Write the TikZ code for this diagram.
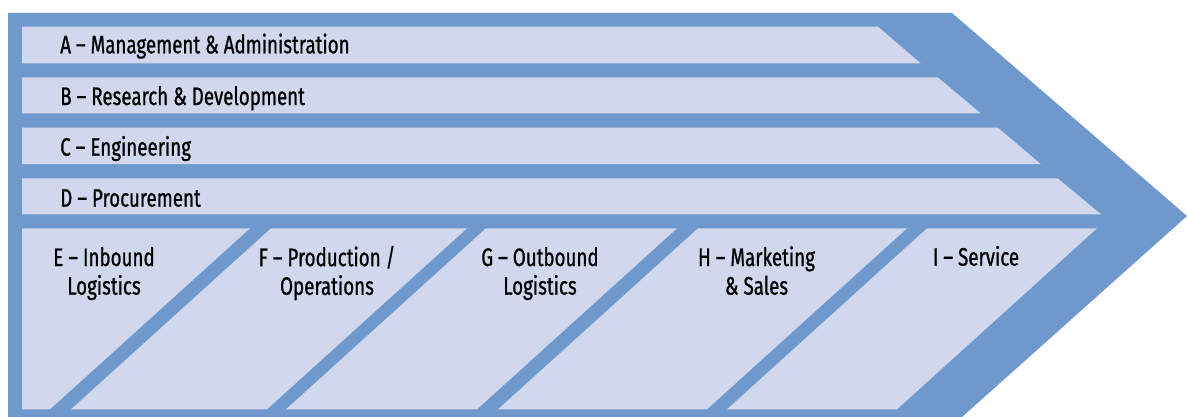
\documentclass[tikz,border=0pt]{standalone}
\usepackage{fontspec}
\setmainfont{Fira Sans}[FakeStretch=0.74, FakeBold=0.8]
\usepackage{tikz}
\usetikzlibrary{positioning}

\definecolor{chainblue}{RGB}{111,152,204}
\definecolor{paleblue}{RGB}{209,216,237}

\tikzset{
  band/.style={fill=paleblue, draw=none},
  label/.style={inner sep=0pt, font=\fontsize{19}{21.5}\selectfont, text=black},
  twoline/.style={label, align=center}
}

\begin{document}
\begin{tikzpicture}[x=0.75pt,y=0.75pt,yscale=-1,xscale=1]

\useasboundingbox (0,0) rectangle (1187,417);

%Shape: Arrow outline
\fill [chainblue] (8,13) -- (952,13) -- (1187,216) -- (962,417) -- (8,417) -- cycle ;

%Shape: Support rows
\fill [band] (22,26.7) -- (878,26.7) -- (920.7,63.3) -- (22,63.3) -- cycle ;
\fill [band] (22,77.3) -- (937.7,77.3) -- (980.7,113.3) -- (22,113.3) -- cycle ;
\fill [band] (22,127.7) -- (998,127.7) -- (1040.7,164) -- (22,164) -- cycle ;
\fill [band] (22,178.3) -- (1057.7,178.3) -- (1101,214.3) -- (22,214.3) -- cycle ;

%Shape: Primary panels
\fill [band] (22,228.3) -- (250,228.3) -- (50,409.3) -- (22,409.3) -- cycle ;
\foreach \l/\r in {271/467, 486/677, 698/907, 927/1097}
  \fill [band] (\l,228.3) -- (\r,228.3) -- (\r-200,409.3) -- (\l-200,409.3) -- cycle ;

% Text Node
\node (mgmt) [label, anchor=west] at (60,47.6) {\strut A – Management \& Administration};
% Text Node
\node (rnd) [label, anchor=west] at (60,99.3) {\strut B – Research \& Development};
% Text Node
\node (eng) [label, anchor=west] at (60,150) {\strut C – Engineering};
% Text Node
\node (proc) [label, anchor=west] at (60,201) {\strut D – Procurement};

% Text Node
\node (inbound) [twoline] at (104,274.6) {\strut E – Inbound\\\strut Logistics};
% Text Node
\node (prod) [twoline] at (327,274.6) {\strut F – Production /\\\strut Operations};
% Text Node
\node (outbound) [twoline] at (540,274.6) {\strut G – Outbound\\\strut Logistics};
% Text Node
\node (mkt) [twoline] at (756.5,274.6) {\strut H – Marketing\\\strut \& Sales};
% Text Node
\node (serv) [label] at (976,260) {\strut I – Service};

\end{tikzpicture}
\end{document}
